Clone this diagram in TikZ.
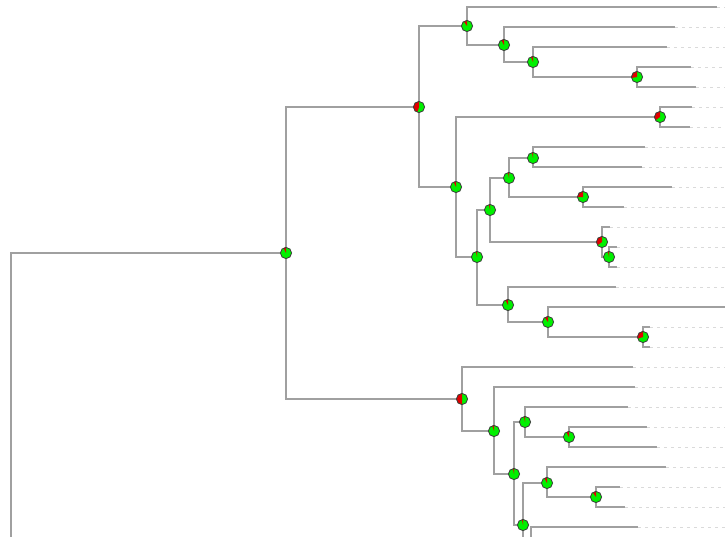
\documentclass[tikz,border=0pt]{standalone}
\usetikzlibrary{calc}
\definecolor{branchgray}{RGB}{160,160,160}
\definecolor{trailgray}{RGB}{218,218,218}
\definecolor{piegreen}{RGB}{0,240,0}
\definecolor{piered}{RGB}{225,0,0}
\definecolor{pieedge}{RGB}{60,60,60}
\tikzset{
  branch/.style={draw=branchgray, line width=1.3pt},
  trail/.style={draw=trailgray, line width=0.8pt, dash pattern=on 3pt off 4pt},
}
% ancestral-state pie: green disc, red share from 12 o'clock counterclockwise
\newcommand\nodepie[2]{%
  \fill[piegreen] (#1) circle[radius=5.6pt];
  \fill[piered] (#1) -- ++(90:5.6pt) arc[start angle=90, delta angle=360*#2, radius=5.6pt] -- cycle;
  \draw[pieedge, line width=0.8pt] (#1) circle[radius=5.6pt];
}
\begin{document}
\begin{tikzpicture}[x=1pt,y=-1pt]
\useasboundingbox (0,0) rectangle (725,536);
\clip (0,0) rectangle (725,536);
\fill[white] (0,0) rectangle (725,536);
\coordinate (edge) at (725,0);
% internal nodes
\coordinate (root) at (11,620);
\coordinate (Z) at (286,253);
\coordinate (E) at (419,107);
\coordinate (A) at (467,26);
\coordinate (B) at (504,45);
\coordinate (C) at (533,62);
\coordinate (D) at (637,77);
\coordinate (G) at (456,187);
\coordinate (F) at (660,117);
\coordinate (H) at (477,257);
\coordinate (I) at (490,210);
\coordinate (J) at (509,178);
\coordinate (K) at (533,158);
\coordinate (L) at (583,197);
\coordinate (M) at (602,242);
\coordinate (N) at (609,257);
\coordinate (O) at (508,305);
\coordinate (P) at (548,322);
\coordinate (Q) at (643,337);
\coordinate (R) at (462,399);
\coordinate (S) at (494,431);
\coordinate (T) at (514,474);
\coordinate (U) at (525,422);
\coordinate (V) at (569,437);
\coordinate (W) at (523,525);
\coordinate (X) at (547,483);
\coordinate (Y) at (596,497);
\coordinate (W2) at (531,567);
\coordinate (below) at (560,600);
% tips (end of the solid branch)
\coordinate (l1) at (717,7);
\coordinate (l2) at (675,27);
\coordinate (l3) at (667,47);
\coordinate (l4) at (691,67);
\coordinate (l5) at (696,87);
\coordinate (l6) at (692,107);
\coordinate (l7) at (690,127);
\coordinate (l8) at (645,147);
\coordinate (l9) at (642,167);
\coordinate (l10) at (672,187);
\coordinate (l11) at (624,207);
\coordinate (l12) at (610,227);
\coordinate (l13) at (617,247);
\coordinate (l14) at (617,267);
\coordinate (l15) at (616,287);
\coordinate (l16) at (725,307);
\coordinate (l17) at (650,327);
\coordinate (l18) at (650,347);
\coordinate (l19) at (633,367);
\coordinate (l20) at (635,387);
\coordinate (l21) at (628,407);
\coordinate (l22) at (647,427);
\coordinate (l23) at (657,447);
\coordinate (l24) at (666,467);
\coordinate (l25) at (620,487);
\coordinate (l26) at (625,507);
\coordinate (l27) at (638,527);
% dotted trails out to the label column
\foreach \t in {l1,l2,l3,l4,l5,l6,l7,l8,l9,l10,l11,l12,l13,l14,l15,l17,l18,l19,l20,l21,l22,l23,l24,l25,l26,l27}
  \draw[trail] (\t) -- (\t -| edge);
% branches
\draw[branch] (root) |- (Z);
\draw[branch] (Z) |- (E);
\draw[branch] (Z) |- (R);
\draw[branch] (E) |- (A);
\draw[branch] (E) |- (G);
\draw[branch] (A) |- (l1);
\draw[branch] (A) |- (B);
\draw[branch] (B) |- (l2);
\draw[branch] (B) |- (C);
\draw[branch] (C) |- (l3);
\draw[branch] (C) |- (D);
\draw[branch] (D) |- (l4);
\draw[branch] (D) |- (l5);
\draw[branch] (G) |- (F);
\draw[branch] (G) |- (H);
\draw[branch] (F) |- (l6);
\draw[branch] (F) |- (l7);
\draw[branch] (H) |- (I);
\draw[branch] (H) |- (O);
\draw[branch] (I) |- (J);
\draw[branch] (I) |- (M);
\draw[branch] (J) |- (K);
\draw[branch] (J) |- (L);
\draw[branch] (K) |- (l8);
\draw[branch] (K) |- (l9);
\draw[branch] (L) |- (l10);
\draw[branch] (L) |- (l11);
\draw[branch] (M) |- (l12);
\draw[branch] (M) |- (N);
\draw[branch] (N) |- (l13);
\draw[branch] (N) |- (l14);
\draw[branch] (O) |- (l15);
\draw[branch] (O) |- (P);
\draw[branch] (P) |- (l16);
\draw[branch] (P) |- (Q);
\draw[branch] (Q) |- (l17);
\draw[branch] (Q) |- (l18);
\draw[branch] (R) |- (l19);
\draw[branch] (R) |- (S);
\draw[branch] (S) |- (l20);
\draw[branch] (S) |- (T);
\draw[branch] (T) |- (U);
\draw[branch] (T) |- (W);
\draw[branch] (U) |- (l21);
\draw[branch] (U) |- (V);
\draw[branch] (V) |- (l22);
\draw[branch] (V) |- (l23);
\draw[branch] (W) |- (X);
\draw[branch] (W) |- (W2);
\draw[branch] (X) |- (l24);
\draw[branch] (X) |- (Y);
\draw[branch] (Y) |- (l25);
\draw[branch] (Y) |- (l26);
\draw[branch] (W2) |- (l27);
\draw[branch] (W2) |- (below);
% state pies at the internal nodes
\nodepie{Z}{0.07}
\nodepie{E}{0.45}
\nodepie{A}{0.10}
\nodepie{B}{0.08}
\nodepie{C}{0.06}
\nodepie{D}{0.28}
\nodepie{G}{0.07}
\nodepie{F}{0.35}
\nodepie{H}{0.03}
\nodepie{I}{0.03}
\nodepie{J}{0.03}
\nodepie{K}{0.03}
\nodepie{L}{0.25}
\nodepie{M}{0.35}
\nodepie{N}{0.03}
\nodepie{O}{0.08}
\nodepie{P}{0.10}
\nodepie{Q}{0.30}
\nodepie{R}{0.50}
\nodepie{S}{0.05}
\nodepie{T}{0.03}
\nodepie{U}{0.03}
\nodepie{V}{0.08}
\nodepie{W}{0.03}
\nodepie{X}{0.08}
\nodepie{Y}{0.10}
\end{tikzpicture}
\end{document}
